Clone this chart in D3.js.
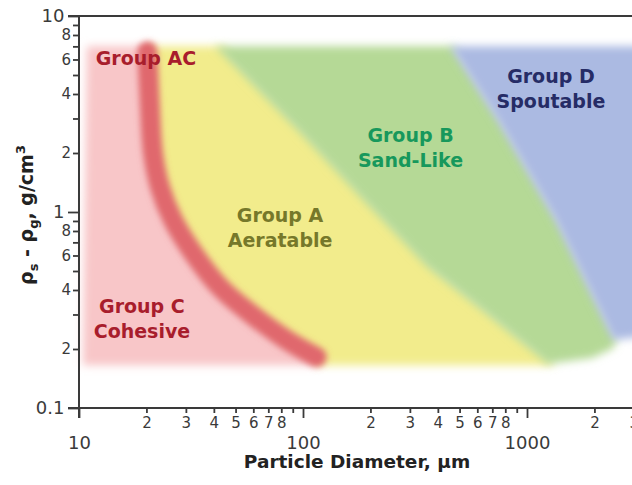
<!DOCTYPE html>
<html>
<head>
<meta charset="utf-8">
<script src="https://cdn.jsdelivr.net/npm/d3@7"></script>
<style>
  body { margin: 0; background: #fff; }
  text { font-family: "DejaVu Sans", Verdana, sans-serif; }
</style>
</head>
<body>
<svg id="chart" width="632" height="485"></svg>
<script>
// boundaries: [particle diameter µm, ρs - ρg g/cm3]
const acCurve = [[20.2, 6.6], [20.7, 3.6], [21.4, 2.0], [23.0, 1.34], [26.3, 0.91], [32.3, 0.62],
                 [42.6, 0.414], [58.0, 0.305], [84.9, 0.222], [115, 0.182]];
const abLine = [[40.4, 7.0], [97, 2.53], [185, 1.15], [358, 0.524], [649, 0.305], [1203, 0.172]];
const bdLine = [[453, 7.0], [735, 2.94], [1330, 0.91], [2420, 0.222]];
const greenBottom = [[1203, 0.167], [1950, 0.18], [2420, 0.202]];
const blueBottom = [[2420, 0.222], [3500, 0.233]];
const regionTop = 7.0, regionBottom = 0.165, regionLeft = 10.4, regionRight = 3500;

// labels: text lines and where they sit [diameter, density]
const groupNames = [["Group AC"], ["Group C", "Cohesive"], ["Group A", "Aeratable"], ["Group B", "Sand-Like"], ["Group D", "Spoutable"]];
const groupAt = [[19.9, 6.1], [19.1, 0.331], [79, 0.965], [302, 2.46], [1279, 4.94]];

const xMajor = [10, 100, 1000];
const xMinor = [20, 30, 40, 50, 60, 70, 80, 90, 200, 300, 400, 500, 600, 700, 800, 900, 2000, 3000];
const yMajor = [0.1, 1, 10];
const yMinor = [0.2, 0.3, 0.4, 0.5, 0.6, 0.7, 0.8, 0.9, 2, 3, 4, 5, 6, 7, 8, 9];

const svg = d3.select("#chart");
svg.append("rect").attr("width", 632).attr("height", 485).attr("fill", "#fff");

const x = d3.scaleLog().domain([10, 3000]).range([79, 79 + 224 * Math.log10(300)]);
const y = d3.scaleLog().domain([0.1, 10]).range([408, 16]);

const defs = svg.append("defs");
defs.append("filter").attr("id", "soft").attr("x", "-20%").attr("y", "-20%").attr("width", "140%").attr("height", "140%")
  .append("feGaussianBlur").attr("stdDeviation", 4.5);
defs.append("filter").attr("id", "softband").attr("x", "-20%").attr("y", "-20%").attr("width", "140%").attr("height", "140%")
  .append("feGaussianBlur").attr("stdDeviation", 3);

const P = (pts, dx = 0) => pts.map(p => [x(p[0]) + dx, y(p[1])]);
const rev = a => a.slice().reverse();
const last = a => a[a.length - 1];

const pink = [...P([[regionLeft, regionTop], [acCurve[0][0], regionTop]], 4), ...P(acCurve, 4),
              ...P([[last(acCurve)[0], regionBottom], [regionLeft, regionBottom]])];
const yellow = [...P([[acCurve[0][0], regionTop]]), ...P(abLine, 8),
                ...P([[last(abLine)[0], regionBottom]], 8), ...P([[last(acCurve)[0], regionBottom]]), ...P(rev(acCurve))];
const green = [...P(abLine), ...P(greenBottom), ...P(rev(bdLine), 4)];
const blue = [...P(bdLine), ...P(blueBottom), ...P([[regionRight, regionTop]])];

const regions = svg.append("g");
[[pink, "#f8c6c8"], [yellow, "#f2ec8c"], [green, "#b5d996"], [blue, "#abbae2"]].forEach(([pts, c]) => {
  regions.append("path").attr("d", d3.line()(pts) + "Z").attr("fill", c).attr("filter", "url(#soft)");
});

svg.append("path")
  .attr("d", d3.line().curve(d3.curveCatmullRom)(P(acCurve)))
  .attr("fill", "none").attr("stroke", "#e0686d").attr("stroke-width", 20)
  .attr("stroke-linecap", "round").attr("filter", "url(#softband)");

// group labels
const labelColors = ["#a81d2c", "#a81d2c", "#76782a", "#17985c", "#262c66"];
groupNames.forEach((lines, i) => {
  const t = svg.append("text")
    .attr("x", x(groupAt[i][0])).attr("y", y(groupAt[i][1]))
    .attr("text-anchor", "middle").attr("font-weight", "bold").attr("font-size", 19)
    .attr("fill", labelColors[i]);
  lines.forEach((s, j) => t.append("tspan").attr("x", x(groupAt[i][0])).attr("dy", j ? 25 : "0.36em").text(s));
});

// axes
const ink = "#3a3a3a";
const styleAxis = g => {
  g.select(".domain").remove();
  g.selectAll("line").attr("stroke", ink).attr("stroke-width", 1.8);
  g.selectAll("text").attr("fill", ink).attr("font-family", "DejaVu Sans, sans-serif");
};
const mantissa = d => Math.round(d / Math.pow(10, Math.floor(Math.log10(d) + 1e-9)));

svg.append("g").attr("transform", "translate(0,408)")
  .call(d3.axisBottom(x).tickValues(xMajor).tickFormat(d3.format("d")).tickSize(10).tickPadding(18))
  .call(styleAxis).selectAll("text").attr("font-size", 18);
svg.append("g").attr("transform", "translate(0,408)")
  .call(d3.axisBottom(x).tickValues(xMinor).tickSize(5).tickPadding(4.5)
    .tickFormat(d => mantissa(d) < 9 ? mantissa(d) : ""))
  .call(styleAxis).selectAll("text").attr("font-size", 15);

svg.append("g").attr("transform", "translate(79,0)")
  .call(d3.axisLeft(y).tickValues(yMajor).tickFormat(d => d === 0.1 ? "0.1" : d).tickSize(11).tickPadding(3.5))
  .call(styleAxis).selectAll("text").attr("font-size", 18);
svg.append("g").attr("transform", "translate(79,0)")
  .call(d3.axisLeft(y).tickValues(yMinor).tickSize(6).tickPadding(2)
    .tickFormat(d => mantissa(d) % 2 === 0 ? mantissa(d) : ""))
  .call(styleAxis).selectAll("text").attr("font-size", 15);

// axis lines and top frame
svg.append("line").attr("x1", 68).attr("x2", 632).attr("y1", 408).attr("y2", 408).attr("stroke", ink).attr("stroke-width", 2);
svg.append("line").attr("x1", 79).attr("x2", 79).attr("y1", 16).attr("y2", 418).attr("stroke", ink).attr("stroke-width", 2);
svg.append("line").attr("x1", 68).attr("x2", 632).attr("y1", 16).attr("y2", 16).attr("stroke", ink).attr("stroke-width", 2);

// titles
svg.append("text").attr("x", 357).attr("y", 468).attr("text-anchor", "middle")
  .attr("font-weight", "bold").attr("font-size", 18.5).attr("fill", "#222")
  .text("Particle Diameter, µm");

const yt = svg.append("text").attr("transform", "translate(33,215) rotate(-90)").attr("text-anchor", "middle")
  .attr("font-weight", "bold").attr("font-size", 19).attr("fill", "#222");
yt.append("tspan").text("ρ");
yt.append("tspan").attr("dy", 5).attr("font-size", 13).text("s");
yt.append("tspan").attr("dy", -5).text(" - ρ");
yt.append("tspan").attr("dy", 5).attr("font-size", 13).text("g");
yt.append("tspan").attr("dy", -5).text(", g/cm");
yt.append("tspan").attr("dy", -8).attr("font-size", 13).text("3");
</script>
</body>
</html>
